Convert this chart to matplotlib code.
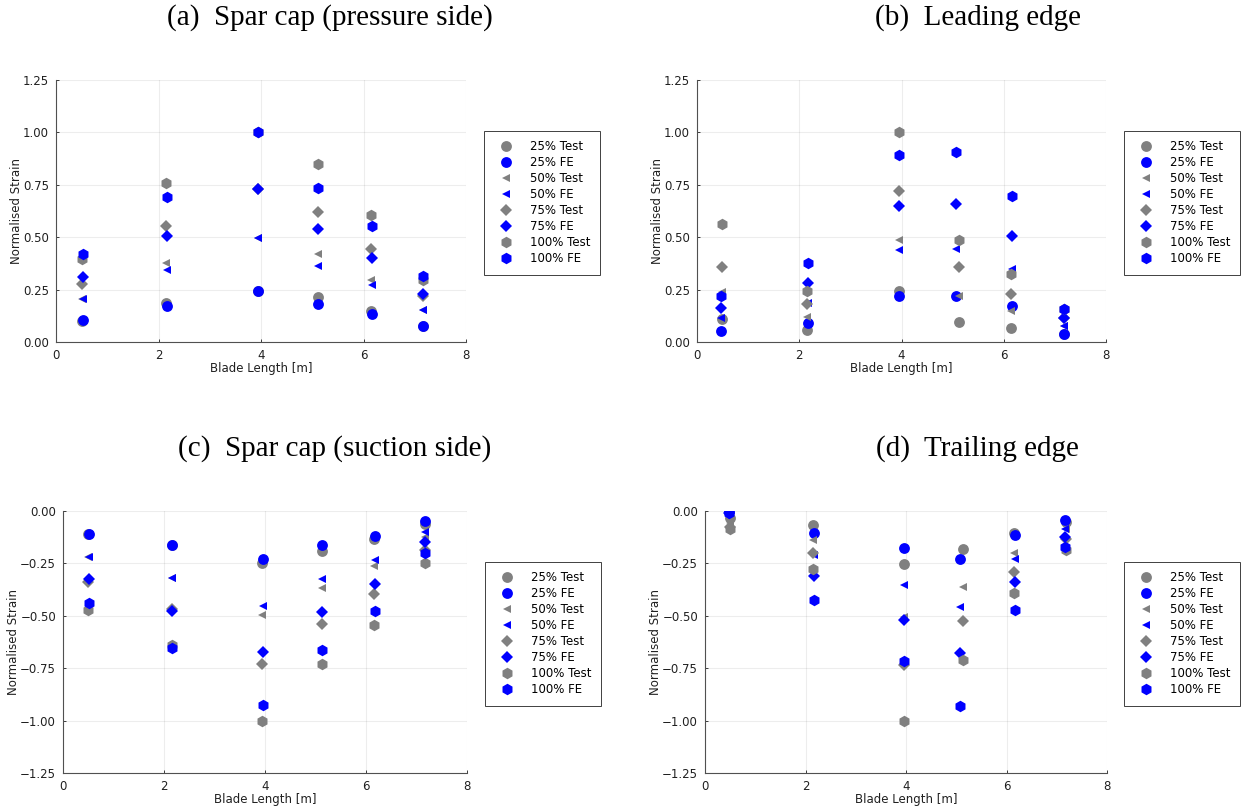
import matplotlib
matplotlib.use("Agg")
import matplotlib.pyplot as plt

# ---------------- data ----------------
levels = ["25%", "50%", "75%", "100%"]

# (a) Spar cap (pressure side)
a_x_test = [0.50, 2.15, 3.95, 5.12, 6.15, 7.17]
a_x_fe = [0.52, 2.17, 3.95, 5.12, 6.17, 7.17]
a_test = [
    [0.100, 0.188, 0.245, 0.213, 0.148, 0.075],
    [0.204, 0.379, 0.494, 0.420, 0.295, 0.151],
    [0.279, 0.554, 0.728, 0.618, 0.443, 0.218],
    [0.398, 0.760, 1.000, 0.849, 0.608, 0.298],
]
a_fe = [
    [0.104, 0.170, 0.245, 0.180, 0.135, 0.075],
    [0.207, 0.342, 0.494, 0.363, 0.274, 0.151],
    [0.310, 0.508, 0.728, 0.537, 0.403, 0.228],
    [0.422, 0.693, 1.000, 0.737, 0.554, 0.314],
]

# (b) Leading edge
b_x_test = [0.49, 2.15, 3.96, 5.13, 6.15, 7.17]
b_x_fe = [0.46, 2.17, 3.96, 5.07, 6.17, 7.17]
b_test = [
    [0.110, 0.057, 0.242, 0.097, 0.065, 0.040],
    [0.238, 0.119, 0.489, 0.221, 0.146, 0.078],
    [0.357, 0.181, 0.721, 0.358, 0.229, 0.115],
    [0.562, 0.243, 1.000, 0.486, 0.326, 0.159],
]
b_fe = [
    [0.052, 0.090, 0.218, 0.221, 0.172, 0.038],
    [0.114, 0.185, 0.438, 0.446, 0.346, 0.078],
    [0.162, 0.281, 0.648, 0.659, 0.506, 0.115],
    [0.219, 0.376, 0.892, 0.908, 0.697, 0.159],
]

# (c) Spar cap (suction side)
c_x_test = [0.50, 2.15, 3.95, 5.12, 6.15, 7.17]
c_x_fe = [0.52, 2.16, 3.97, 5.12, 6.17, 7.17]
c_test = [
    [-0.110, -0.161, -0.247, -0.190, -0.132, -0.062],
    [-0.221, -0.322, -0.495, -0.369, -0.263, -0.123],
    [-0.338, -0.468, -0.731, -0.537, -0.396, -0.186],
    [-0.470, -0.637, -1.000, -0.731, -0.545, -0.248],
]
c_fe = [
    [-0.110, -0.161, -0.228, -0.162, -0.118, -0.048],
    [-0.218, -0.322, -0.455, -0.326, -0.236, -0.099],
    [-0.323, -0.478, -0.674, -0.481, -0.347, -0.146],
    [-0.441, -0.653, -0.924, -0.662, -0.478, -0.202],
]

# (d) Trailing edge
d_x_test = [0.50, 2.15, 3.96, 5.13, 6.15, 7.18]
d_x_fe = [0.47, 2.17, 3.97, 5.07, 6.17, 7.17]
d_test = [
    [-0.035, -0.067, -0.252, -0.183, -0.104, -0.051],
    [-0.055, -0.139, -0.505, -0.361, -0.201, -0.088],
    [-0.075, -0.202, -0.736, -0.524, -0.290, -0.135],
    [-0.088, -0.279, -1.000, -0.713, -0.393, -0.186],
]
d_fe = [
    [-0.003, -0.104, -0.177, -0.229, -0.115, -0.041],
    [-0.005, -0.210, -0.354, -0.459, -0.231, -0.086],
    [-0.008, -0.310, -0.521, -0.677, -0.341, -0.126],
    [-0.010, -0.425, -0.715, -0.932, -0.470, -0.174],
]

titles = ["(a)  Spar cap (pressure side)", "(b)  Leading edge",
          "(c)  Spar cap (suction side)", "(d)  Trailing edge"]
xticks = [0, 2, 4, 6, 8]
yticks_pos = [0.00, 0.25, 0.50, 0.75, 1.00, 1.25]
yticks_neg = [-1.25, -1.00, -0.75, -0.50, -0.25, 0.00]

# ---------------- style ----------------
W, H = 1243, 811
GRAY = "#808080"
BLUE = "#0000ff"
markers = ["o", "<", "D", "h"]
msizes = [7.8, 5.5, 6.2, 8.3]

fig = plt.figure(figsize=(W / 100, H / 100), dpi=100)

panels = [
    dict(xt=a_x_test, xf=a_x_fe, t=a_test, f=a_fe, ax=(56, 466, 80, 342),
         leg=(484, 131), tc=(330, 18), yt=yticks_pos, yl=(0, 1.25)),
    dict(xt=b_x_test, xf=b_x_fe, t=b_test, f=b_fe, ax=(697, 1106, 80, 342),
         leg=(1124, 131), tc=(978, 18), yt=yticks_pos, yl=(0, 1.25)),
    dict(xt=c_x_test, xf=c_x_fe, t=c_test, f=c_fe, ax=(63, 467, 511, 773),
         leg=(485, 562), tc=(335, 449), yt=yticks_neg, yl=(-1.25, 0)),
    dict(xt=d_x_test, xf=d_x_fe, t=d_test, f=d_fe, ax=(705, 1107, 511, 773),
         leg=(1124, 562), tc=(977, 449), yt=yticks_neg, yl=(-1.25, 0)),
]

for p, title in zip(panels, titles):
    l, r, t, b = p["ax"]
    ax = fig.add_axes([l / W, 1 - b / H, (r - l) / W, (b - t) / H])
    for i, lev in enumerate(levels):
        ax.plot(p["xt"], p["t"][i], linestyle="none", marker=markers[i],
                markersize=msizes[i], color=GRAY, markeredgewidth=0,
                label=f"{lev} Test", zorder=3)
        ax.plot(p["xf"], p["f"][i], linestyle="none", marker=markers[i],
                markersize=msizes[i], color=BLUE, markeredgewidth=0,
                label=f"{lev} FE", zorder=3)
    ax.set_xlim(0, 8)
    ax.set_ylim(*p["yl"])
    ax.set_xticks(xticks)
    ax.set_yticks(p["yt"])
    ax.set_yticklabels([f"{v:.2f}".replace("-", "\u2212") for v in p["yt"]])
    ax.grid(True, color="#000000", alpha=0.07, linewidth=0.8)
    ax.set_axisbelow(True)
    for s in ["top", "right"]:
        ax.spines[s].set_visible(False)
    for s in ["left", "bottom"]:
        ax.spines[s].set_color("#505050")
        ax.spines[s].set_linewidth(0.8)
    ax.tick_params(direction="in", length=2.0, width=0.6, labelsize=8.5,
                   colors="#202020", pad=5)
    ax.set_xlabel("Blade Length [m]", fontsize=8.5, labelpad=0, color="#202020")
    ax.set_ylabel("Normalised Strain", fontsize=8.5, labelpad=0, color="#202020")
    leg = ax.legend(loc="upper left",
                    bbox_to_anchor=(p["leg"][0] / W, 1 - p["leg"][1] / H),
                    bbox_transform=fig.transFigure, fontsize=8.5,
                    frameon=True, fancybox=False, framealpha=1,
                    edgecolor="#404040", borderpad=0.8, labelspacing=0.25,
                    handlelength=2.2, handletextpad=0.9, borderaxespad=0)
    leg.get_frame().set_linewidth(0.7)
    fig.text(p["tc"][0] / W, 1 - p["tc"][1] / H, title, ha="center",
             va="center", family="Liberation Serif", fontsize=21)

fig.savefig("out.png", dpi=100)
